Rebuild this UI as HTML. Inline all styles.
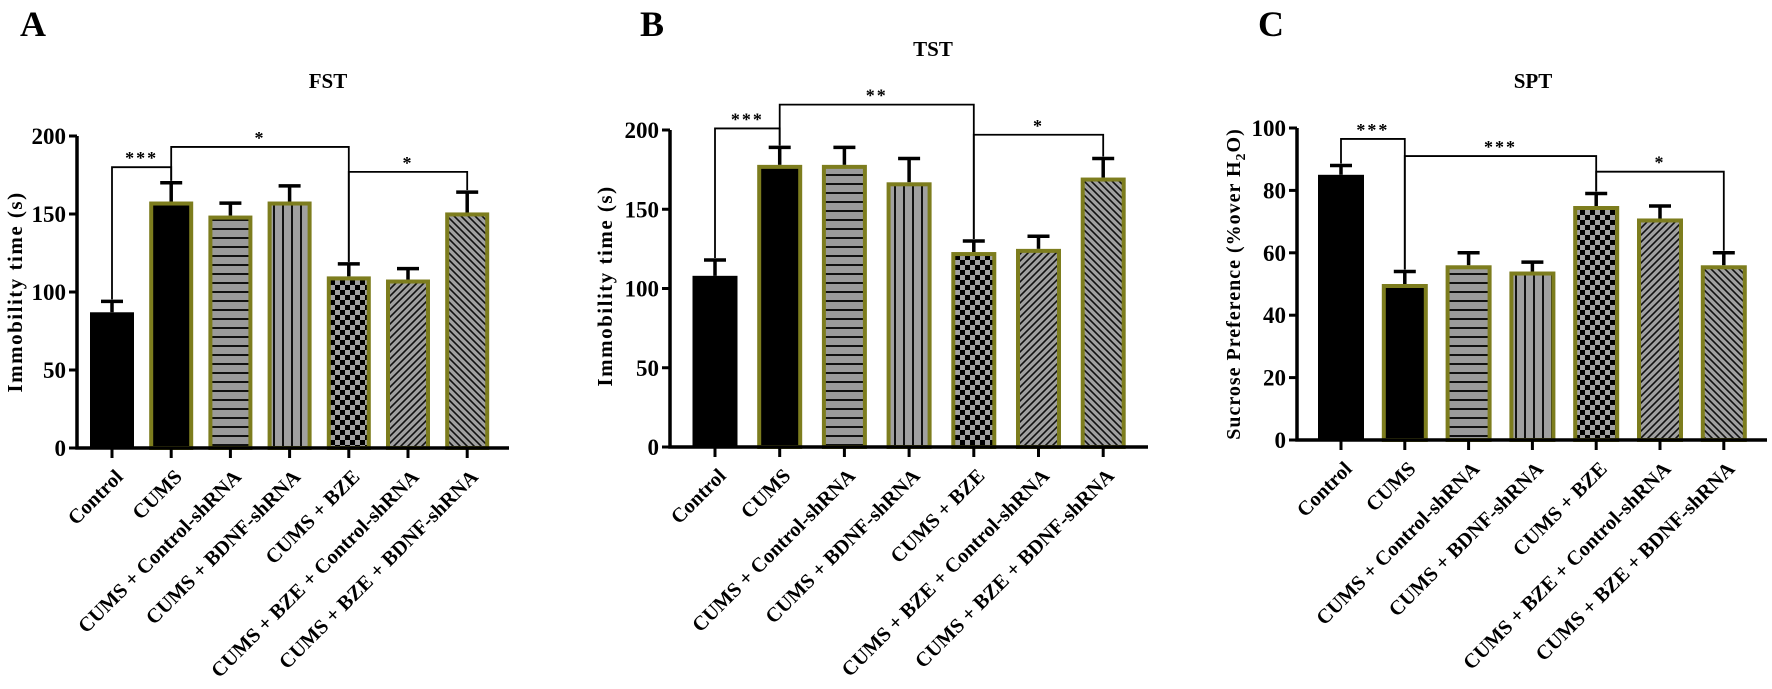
<!DOCTYPE html>
<html><head><meta charset="utf-8"><style>
html,body{margin:0;padding:0;background:#fff}
svg{display:block}
text{font-family:"Liberation Serif",serif;font-weight:bold;fill:#000}
</style></head><body>
<svg id="fig" width="1772" height="689" viewBox="0 0 1772 689" xmlns="http://www.w3.org/2000/svg">
<defs>
<pattern id="p-h" width="10" height="9" patternUnits="userSpaceOnUse"><rect width="10" height="9" fill="#9a9a9a"/><rect y="3" width="10" height="2" fill="#111"/></pattern>
<pattern id="p-v" width="9" height="10" patternUnits="userSpaceOnUse"><rect width="9" height="10" fill="#a0a0a0"/><rect x="3" width="2" height="10" fill="#111"/></pattern>
<pattern id="p-c" width="10" height="10" patternUnits="userSpaceOnUse"><rect width="10" height="10" fill="#a0a0a0"/><rect width="5" height="5" fill="#000"/><rect x="5" y="5" width="5" height="5" fill="#000"/></pattern>
<pattern id="p-d1" width="7" height="7" patternUnits="userSpaceOnUse"><rect width="7" height="7" fill="#a0a0a0"/><path d="M-1,8 L8,-1 M-2,2 L2,-2 M5,9 L9,5" stroke="#111" stroke-width="1.6"/></pattern>
<pattern id="p-d2" width="7" height="7" patternUnits="userSpaceOnUse"><rect width="7" height="7" fill="#a0a0a0"/><path d="M-1,-1 L8,8 M5,-2 L9,2 M-2,5 L2,9" stroke="#111" stroke-width="1.6"/></pattern>
</defs>
</svg>
<script>
const categories = ["Control","CUMS","CUMS + Control-shRNA","CUMS + BDNF-shRNA","CUMS + BZE","CUMS + BZE + Control-shRNA","CUMS + BZE + BDNF-shRNA"];
const fstValues = [87,158,149,158,110,108,151];
const fstErrors = [7,12,8,10,8,7,13];
const tstValues = [108,178,178,167,123,125,170];
const tstErrors = [10,11,11,15,7,8,12];
const sptValues = [85,50,56,54,75,71,56];
const sptErrors = [3,4,4,3,4,4,4];
const fstTicks = [0,50,100,150,200];
const tstTicks = [0,50,100,150,200];
const sptTicks = [0,20,40,60,80,100];
// brackets: [groupA, groupB, level, label]
const fstBrackets = [[0,1,180,"***"],[1,4,193,"*"],[4,6,177,"*"]];
const tstBrackets = [[0,1,201,"***"],[1,4,216,"**"],[4,6,197,"*"]];
const sptBrackets = [[0,1,96.5,"***"],[1,4,91,"***"],[4,6,86,"*"]];

const NS="http://www.w3.org/2000/svg";
const svg=document.getElementById('fig');
const fills=["#000","#000","url(#p-h)","url(#p-v)","url(#p-c)","url(#p-d1)","url(#p-d2)"];
const OLIVE="#7d7d1e";
function mk(tag,attrs,parent){const e=document.createElementNS(NS,tag);for(const k in attrs)e.setAttribute(k,attrs[k]);(parent||svg).appendChild(e);return e;}

function panel(cfg){
  const g=mk('g',{});
  
  
  const y=v=>cfg.y0-(v-cfg.min)/(cfg.max-cfg.min)*(cfg.y0-cfg.yTop);
  const x=i=>cfg.x0+i*cfg.step;
  const L=mk('text',{x:cfg.letterX,y:36,'font-size':36},g);L.textContent=cfg.letter;
  
  
  const T=mk('text',{x:cfg.titleX,y:cfg.titleY,'font-size':21,'text-anchor':'middle'},g);T.textContent=cfg.title;
  
  
  cfg.values.forEach((v,i)=>{
    const cx=x(i),w=cfg.bw,top=y(v),bot=y(cfg.min);
    const e=cfg.errors[i];
    const et=y(v+e);
    const el=mk('path',{d:`M${cx},${top} V${et} M${cx-11},${et} H${cx+11}`,stroke:'#000','stroke-width':3.5,fill:'none'},g);
    
    
    const r=mk('rect',{x:cx-w/2+(i?2:0),y:top+(i?2:0),width:w-(i?4:0),height:bot-top-(i?2:0),fill:fills[i],stroke:i?OLIVE:'none','stroke-width':i?4:0},g);
    
    
  });
  const ax=mk('path',{d:`M${cfg.axX},${y(cfg.max)} V${cfg.y0} H${cfg.axEnd}`,stroke:'#000','stroke-width':3.5,fill:'none'},g);
  
  
  cfg.ticks.forEach(t=>{
    const ty=y(t);
    mk('line',{x1:cfg.axX-8,x2:cfg.axX,y1:ty,y2:ty,stroke:'#000','stroke-width':3},g);
    const tl=mk('text',{x:cfg.axX-11,y:ty+8,'font-size':23,'text-anchor':'end'},g);tl.textContent=t;
    
    
  });
  categories.forEach((c,i)=>{
    const cx=x(i);
    mk('line',{x1:cx,x2:cx,y1:cfg.y0,y2:cfg.y0+10,stroke:'#000','stroke-width':3},g);
    const tl=mk('text',{x:0,y:0,'font-size':20.5,'text-anchor':'end',transform:`translate(${cx+12},${cfg.y0+30}) rotate(-45)`},g);tl.textContent=c;
    
    
  });
  const yt=mk('text',{x:0,y:0,'font-size':cfg.ytSize,'text-anchor':'middle','letter-spacing':cfg.ls,transform:`translate(${cfg.ytX},${cfg.ytY}) rotate(-90)`},g);
  yt.innerHTML=cfg.ytitle;
  
  
  cfg.brackets.forEach(b=>{
    const [a,bb,lv,lab]=b;const by=y(lv);
    const ya=y(cfg.values[a]+cfg.errors[a])-2, yb=y(cfg.values[bb]+cfg.errors[bb])-2;
    const p=mk('path',{d:`M${x(a)},${ya} V${by} H${x(bb)} V${yb}`,stroke:'#000','stroke-width':1.8,fill:'none'},g);
    
    
    const s=mk('text',{x:(x(a)+x(bb))/2,y:by-3,'font-size':18,'font-weight':'normal','text-anchor':'middle','letter-spacing':2},g);s.textContent=lab;
    
    
  });
}
panel({id:'fst',letter:'A',letterX:20,title:'FST',titleX:328,titleY:88,values:fstValues,errors:fstErrors,ticks:fstTicks,brackets:fstBrackets,min:0,max:200,y0:448,yTop:136,x0:112,step:59.2,bw:44,axX:77,axEnd:509,ytitle:'Immobility time (s)',ytX:22,ytY:292,ytSize:21,ls:1.5});
panel({id:'tst',letter:'B',letterX:640,title:'TST',titleX:933,titleY:56,values:tstValues,errors:tstErrors,ticks:tstTicks,brackets:tstBrackets,min:0,max:200,y0:447,yTop:130,x0:715,step:64.7,bw:45,axX:670,axEnd:1148,ytitle:'Immobility time (s)',ytX:612,ytY:286,ytSize:21,ls:1.5});
panel({id:'spt',letter:'C',letterX:1258,title:'SPT',titleX:1533,titleY:88,values:sptValues,errors:sptErrors,ticks:sptTicks,brackets:sptBrackets,min:0,max:100,y0:440,yTop:128,x0:1341,step:63.8,bw:46,axX:1297,axEnd:1767,ytitle:'Sucrose Preference (%over H<tspan font-size="14" dy="5">2</tspan><tspan dy="-5">O)</tspan>',ytX:1240,ytY:284,ytSize:20,ls:1});
</script>
</body></html>
